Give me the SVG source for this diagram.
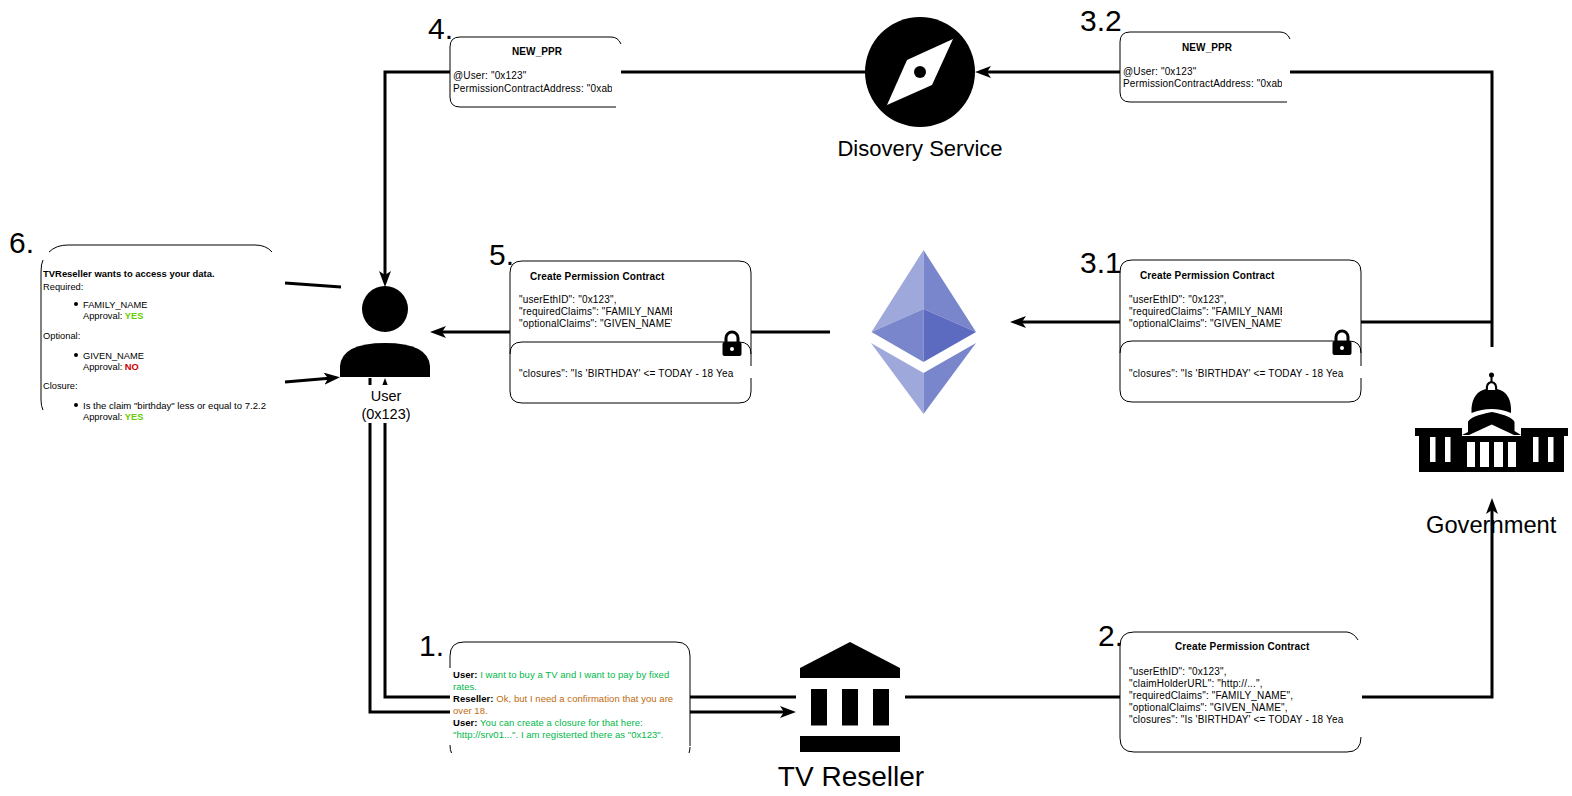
<svg xmlns="http://www.w3.org/2000/svg" width="1572" height="796" viewBox="0 0 1572 796">
<style>
text{font-family:"Liberation Sans",Arial,Helvetica,sans-serif;fill:#000}
.s{font-size:10px;letter-spacing:.16px}
.t{font-size:9.500px;letter-spacing:.05px}
.f{font-size:9.300px}
.b{font-weight:bold;letter-spacing:.1px}
.h{font-size:9.450px;font-weight:bold}
.n{font-size:30px}
.l{font-size:24px}
.bg{fill:#fff;stroke:none}
.e{fill:none;stroke:#000;stroke-width:1}
.c{fill:none;stroke:#000;stroke-width:3}
.u{fill:#00b84a}
.r{fill:#c06a10}
.y{fill:#66cc00;font-weight:bold}
.no{fill:#cc0000;font-weight:bold}
.k{fill:#000}
.w{fill:#fff}
</style>
<defs>
<marker id="arrow" markerUnits="userSpaceOnUse" markerWidth="16" markerHeight="12" refX="8" refY="6" orient="auto"><path d="M16 6L0 0L4 6L0 12Z" fill="#000"/></marker>
<clipPath id="clip4"><rect x="450" y="60" width="162" height="40"/></clipPath>
<clipPath id="clip32"><rect x="1120" y="60" width="162" height="40"/></clipPath>
<clipPath id="clip5"><rect x="515" y="290" width="157" height="45"/></clipPath>
<clipPath id="clip31"><rect x="1125" y="290" width="157" height="45"/></clipPath>
<clipPath id="clip6"><rect x="40" y="395" width="226" height="20"/></clipPath>
<g id="lockglyph"><path d="M-6 12V7a6 6 0 0 1 12 0V12" fill="none" stroke="#000" stroke-width="3"/><rect x="-9.500" y="11" width="19" height="14" rx="2" fill="#000"/><circle cx="0" cy="18" r="2" fill="#fff"/></g>
</defs>

<g id="node-government-label"><text class="l" x="1426" y="533" style="font-size:23.700px">Government</text></g>

<g id="connectors">
<path class="c" d="M370 378V712H788" marker-end="url(#arrow)"/>
<path class="c" d="M796 697H385V386" marker-end="url(#arrow)"/>
<path class="c" d="M905 697H1492V506" marker-end="url(#arrow)"/>
<path class="c" d="M1492 347V72H983" marker-end="url(#arrow)"/>
<path class="c" d="M866 72H385V279" marker-end="url(#arrow)"/>
<path class="c" d="M1492 322H1018" marker-end="url(#arrow)"/>
<path class="c" d="M830 332H438" marker-end="url(#arrow)"/>
<path class="c" d="M285 283L341 287"/>
<path class="c" d="M285 382L332 378" marker-end="url(#arrow)"/>
</g>

<g id="node-user">
<rect class="bg" x="350" y="385" width="70" height="38"/>
<circle class="k" cx="385" cy="309" r="23"/>
<path class="k" d="M340 377V366Q342 343 385 343Q428 343 430 366V377Z"/>
<text x="386" y="401" text-anchor="middle" font-size="14.500">User</text>
<text x="386" y="419" text-anchor="middle" font-size="14.500">(0x123)</text>
</g>

<g id="node-discovery">
<circle class="k" cx="920" cy="72" r="55"/>
<path class="w" d="M953 39L932 85L887 105L907 60Z"/>
<circle class="k" cx="920" cy="72" r="6"/>
<text class="l" x="920" y="156" text-anchor="middle" style="font-size:22px">Disovery Service</text>
</g>

<g id="node-ethereum">
<path fill="#9fa8da" d="M923.500 250L871.500 332L923.500 309Z"/>
<path fill="#7986cb" d="M923.500 250L976 332L923.500 309Z"/>
<path fill="#7986cb" d="M871.500 332L923.500 309V362Z"/>
<path fill="#5c6bc0" d="M976 332L923.500 309V362Z"/>
<path fill="#9fa8da" d="M871 343L923.500 373V414Z"/>
<path fill="#7986cb" d="M976 343L923.500 373V414Z"/>
</g>

<g id="node-government">
<path class="k" d="M1415 428H1462V436H1521V428H1568V436H1564V472H1419V436H1415Z"/>
<path class="k" d="M1462 435L1468 432V422Q1470 416 1492 412Q1512 416 1514.500 422V431L1521 435Z"/>
<path class="k" d="M1471.500 413V408Q1473 392 1486 389Q1492 387 1497 389Q1510 392 1511 408V413Q1492 405 1471.500 413Z"/>
<path d="M1487 390Q1486 383 1491.500 382Q1497 383 1496 390" fill="#fff" stroke="#000" stroke-width="2"/>
<circle class="k" cx="1491.500" cy="375" r="2.500"/><rect class="k" x="1490.500" y="375" width="2" height="7"/>
<path class="w" d="M1469 435L1491.700 424.500L1514 435Z"/>
<rect class="w" x="1430" y="437" width="5.500" height="25"/><rect class="w" x="1445" y="437" width="5.500" height="25"/>
<rect class="w" x="1533" y="437" width="5.500" height="25"/><rect class="w" x="1548" y="437" width="5.500" height="25"/>
<rect class="w" x="1467" y="442" width="8" height="25"/><rect class="w" x="1480" y="442" width="9" height="25"/>
<rect class="w" x="1494" y="442" width="9" height="25"/><rect class="w" x="1508" y="442" width="8" height="25"/>
</g>

<g id="node-tv-reseller">
<path class="k" d="M850 642L900 668V678H800V668Z"/>
<rect class="k" x="811" y="689" width="16" height="36.500"/><rect class="k" x="842" y="689" width="16" height="36.500"/><rect class="k" x="873" y="689" width="16" height="36.500"/>
<rect class="k" x="800" y="736" width="100" height="16"/>
<text x="851" y="786" text-anchor="middle" font-size="28">TV Reseller</text>
</g>

<g id="note-4">
<rect class="bg" x="450" y="37" width="171" height="70"/>
<path class="e" d="M450 97V47Q450 37 460 37H611Q618 37 621 44M450 97Q450 107 460 107H616"/>
<text class="s b" x="512" y="55">NEW_PPR</text>
<g clip-path="url(#clip4)"><text class="s" x="453" y="79">@User: "0x123"</text><text class="s" x="453" y="92">PermissionContractAddress: "0xabc"</text></g>
<text class="n" x="428" y="39">4.</text>
</g>

<g id="note-32">
<rect class="bg" x="1120" y="32" width="170" height="70"/>
<path class="e" d="M1120 92V42Q1120 32 1130 32H1280Q1287 32 1290 39M1120 92Q1120 102 1130 102H1287"/>
<text class="s b" x="1182" y="51">NEW_PPR</text>
<g clip-path="url(#clip32)"><text class="s" x="1123" y="75">@User: "0x123"</text><text class="s" x="1123" y="87">PermissionContractAddress: "0xabc"</text></g>
<text class="n" x="1080" y="31">3.2</text>
</g>

<g id="note-5">
<rect class="bg" x="510" y="261" width="241" height="142"/>
<path class="e" d="M751 366V273Q751 261 739 261H522Q510 261 510 273V391Q510 403 522 403H739Q751 403 751 391V378"/>
<path class="e" d="M510 354Q510 342 522 342H739Q751 342 751 354"/>
<text class="s b" x="530" y="280">Create Permission Contract</text>
<g clip-path="url(#clip5)"><text class="s" x="519" y="303">"userEthID": "0x123",</text><text class="s" x="519" y="315">"requiredClaims": "FAMILY_NAME",</text><text class="s" x="519" y="327">"optionalClaims": "GIVEN_NAME",</text></g>
<text class="s" x="519" y="377">"closures": "Is 'BIRTHDAY' &lt;= TODAY - 18 Yea</text>
<use href="#lockglyph" x="732" y="331"/>
<text class="n" x="489" y="265">5.</text>
</g>

<g id="note-31">
<rect class="bg" x="1120" y="260" width="241" height="142"/>
<path class="e" d="M1361 366V272Q1361 260 1349 260H1132Q1120 260 1120 272V390Q1120 402 1132 402H1349Q1361 402 1361 390V378"/>
<path class="e" d="M1120 353Q1120 341 1132 341H1349Q1361 341 1361 353"/>
<text class="s b" x="1140" y="279">Create Permission Contract</text>
<g clip-path="url(#clip31)"><text class="s" x="1129" y="303">"userEthID": "0x123",</text><text class="s" x="1129" y="315">"requiredClaims": "FAMILY_NAME",</text><text class="s" x="1129" y="327">"optionalClaims": "GIVEN_NAME",</text></g>
<text class="s" x="1129" y="377">"closures": "Is 'BIRTHDAY' &lt;= TODAY - 18 Yea</text>
<use href="#lockglyph" x="1342" y="330"/>
<text class="n" x="1080" y="273">3.1</text>
</g>

<g id="note-2">
<rect class="bg" x="1120" y="632" width="242" height="120"/>
<path class="e" d="M1120 738V646Q1120 632 1134 632H1347Q1354 633 1358 640M1120 738Q1120 752 1134 752H1347Q1361 752 1361 737"/>
<text class="s b" x="1175" y="650">Create Permission Contract</text>
<text class="s" x="1129" y="675">"userEthID": "0x123",</text>
<text class="s" x="1129" y="687">"claimHolderURL": "http://...",</text>
<text class="s" x="1129" y="699">"requiredClaims": "FAMILY_NAME",</text>
<text class="s" x="1129" y="711">"optionalClaims": "GIVEN_NAME",</text>
<text class="s" x="1129" y="723">"closures": "Is 'BIRTHDAY' &lt;= TODAY - 18 Yea</text>
<text class="n" x="1098" y="646">2.</text>
</g>

<g id="note-1">
<rect class="bg" x="450" y="642" width="240" height="111"/>
<path class="e" d="M450 668V656Q450 642 464 642H676Q690 642 690 656V746M690 747Q690 750 689 753M450 745Q450 750 451.500 753"/>
<text class="t" x="453" y="678"><tspan style="font-weight:bold">User:</tspan><tspan class="u"> I want to buy a TV and I want to pay by fixed</tspan></text>
<text class="t u" x="453" y="690">rates.</text>
<text class="t" x="453" y="702"><tspan style="font-weight:bold">Reseller:</tspan><tspan class="r"> Ok, but I need a confirmation that you are</tspan></text>
<text class="t r" x="453" y="714">over 18.</text>
<text class="t" x="453" y="726"><tspan style="font-weight:bold">User:</tspan><tspan class="u"> You can create a closure for that here:</tspan></text>
<text class="t u" x="453" y="738">"http://srv01...". I am registerted there as "0x123".</text>
<text class="n" x="419" y="656">1.</text>
</g>

<g id="note-6">
<path class="e" d="M49 252Q56 245 68 245H255Q266 245 272 252M43 260Q41 264 41 272V400Q41 406 43 410"/>
<text class="h" x="43" y="277">TVReseller wants to access your data.</text>
<text class="f" x="43" y="290">Required:</text>
<circle class="k" cx="76" cy="304" r="2"/>
<text class="f" x="83" y="308">FAMILY_NAME</text>
<text class="f" x="83" y="319">Approval: <tspan class="y">YES</tspan></text>
<text class="f" x="43" y="339">Optional:</text>
<circle class="k" cx="76" cy="355" r="2"/>
<text class="f" x="83" y="359">GIVEN_NAME</text>
<text class="f" x="83" y="370">Approval: <tspan class="no">NO</tspan></text>
<text class="f" x="43" y="389">Closure:</text>
<circle class="k" cx="76" cy="405" r="2"/>
<g clip-path="url(#clip6)"><text class="f" x="83" y="409" style="font-size:9.550px">Is the claim "birthday" less or equal to 7.2.2000</text></g>
<text class="f" x="83" y="420">Approval: <tspan class="y">YES</tspan></text>
<text class="n" x="9" y="253">6.</text>
</g>
</svg>
